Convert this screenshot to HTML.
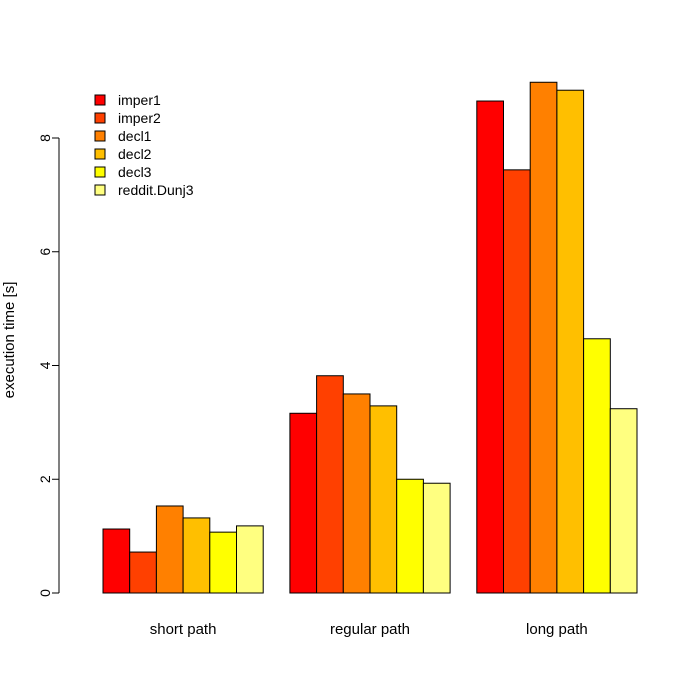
<!DOCTYPE html>
<html><head><meta charset="utf-8"><style>
html,body{margin:0;padding:0;background:#fff;}
svg{display:block;font-family:"Liberation Sans",Arial,sans-serif;}
</style></head><body>
<svg id="chart" width="700" height="700" viewBox="0 0 700 700">
<g id="axis"></g>
<g id="bars"></g>
<g id="legend"></g>
<text x="14" y="340" transform="rotate(-90 14 340)" text-anchor="middle" font-size="15">execution time [s]</text>
</svg>
<script>
const groups = ["short path","regular path","long path"];
const seriesNames = ["imper1","imper2","decl1","decl2","decl3","reddit.Dunj3"];
const colors = ["#FF0000","#FF4000","#FF8000","#FFBF00","#FFFF00","#FFFF80"];
const imper1 = [1.125, 3.16, 8.65];
const imper2 = [0.72, 3.82, 7.44];
const decl1 = [1.53, 3.50, 8.98];
const decl2 = [1.32, 3.29, 8.84];
const decl3 = [1.07, 2.00, 4.47];
const redditDunj3 = [1.18, 1.93, 3.24];
const yTicks = [0,2,4,6,8];

const series = [imper1,imper2,decl1,decl2,decl3,redditDunj3];
const NS = "http://www.w3.org/2000/svg";
const y = v => 593 - v * 56.875;
const unit = 26.7, x0 = 76.3;
const xu = u => x0 + u * unit;
function mk(tag, attrs, parent){const e=document.createElementNS(NS,tag);for(const k in attrs)e.setAttribute(k,attrs[k]);parent.appendChild(e);return e;}

const axis = document.getElementById('axis');
const ax = mk('line',{x1:59,x2:59,y1:y(0),y2:y(8),stroke:'#000'},axis);


yTicks.forEach(t=>{
  const l = mk('line',{x1:52,x2:59,y1:y(t),y2:y(t),stroke:'#000'},axis);
  
  
  const tx = mk('text',{x:50,y:y(t),'font-size':14,'text-anchor':'middle',transform:`rotate(-90 50 ${y(t)})`},axis);
  tx.textContent = t;
  
  
});

const bars = document.getElementById('bars');
groups.forEach((g,gi)=>{
  const start = 1 + gi*7;
  series.forEach((s,si)=>{
    const v = s[gi];
    const r = mk('rect',{x:xu(start+si),y:y(v),width:unit,height:y(0)-y(v),fill:colors[si],stroke:'#000','stroke-width':1},bars);
    
    
  });
  const lbl = mk('text',{x:xu(start+3),y:634,'font-size':15,'text-anchor':'middle'},bars);
  lbl.textContent = g;
  
  
});

const legend = document.getElementById('legend');
seriesNames.forEach((n,i)=>{
  const cy = 100 + i*18;
  const r = mk('rect',{x:95,y:cy-5,width:10,height:10,fill:colors[i],stroke:'#000','stroke-width':1},legend);
  
  
  const t = mk('text',{x:118,y:cy+5,'font-size':14},legend);
  t.textContent = n;
  
  
});
</script>
</body></html>
